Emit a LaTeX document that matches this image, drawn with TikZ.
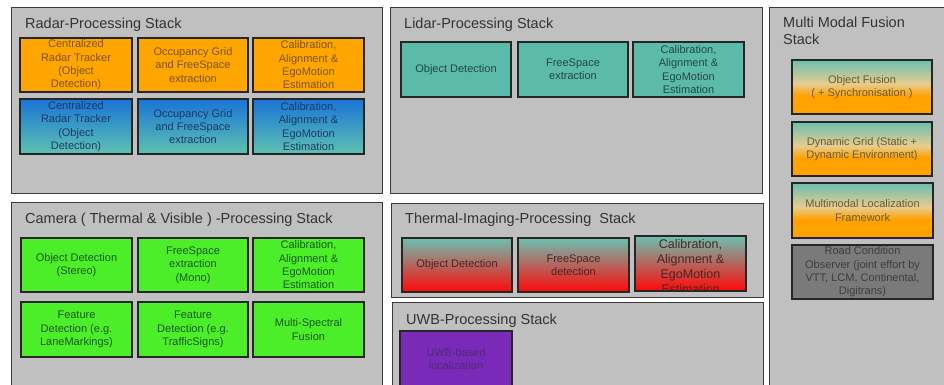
\documentclass[tikz,border=0pt]{standalone}
\usepackage{fontspec}
\setmainfont{Liberation Sans}
\definecolor{panelfill}{HTML}{C0C0C0}
\definecolor{panelline}{HTML}{3A3A3A}
\definecolor{radarorange}{HTML}{FFA500}
\definecolor{radartext}{HTML}{7E5210}
\definecolor{bluetop}{HTML}{1A74D6}
\definecolor{bluebot}{HTML}{5EC2B0}
\definecolor{bluetext}{HTML}{1A3A6A}
\definecolor{lidarteal}{HTML}{5CBAA8}
\definecolor{lidartext}{HTML}{1E4A48}
\definecolor{camgreen}{HTML}{4CEE2A}
\definecolor{camtext}{HTML}{1A5A10}
\definecolor{tealtop}{HTML}{6CC0B0}
\definecolor{thermmid}{HTML}{C08080}
\definecolor{thermred}{HTML}{FF0808}
\definecolor{thermtext}{HTML}{4A2424}
\definecolor{fusmid}{HTML}{E6CC90}
\definecolor{fusbot}{HTML}{FFA200}
\definecolor{fustext}{HTML}{6E5A30}
\definecolor{roadfill}{HTML}{7A7A7A}
\definecolor{roadtext}{HTML}{3E3E3E}
\definecolor{uwbfill}{HTML}{7A2AB8}
\definecolor{uwbtext}{HTML}{4E2A78}
% teal-to-orange fade: orange over the lower part, teal at the top
\pgfdeclareverticalshading{fusionfade}{100bp}{color(0bp)=(fusbot); color(25bp)=(fusbot);
  color(42bp)=(fusbot); color(53bp)=(fusmid); color(75bp)=(tealtop); color(100bp)=(tealtop)}
\begin{document}
\begin{tikzpicture}[x=1pt,y=-1pt,
  panel/.style={draw=panelline, line width=1.3pt, fill=panelfill, anchor=north west, inner sep=0pt},
  ptitle/.style={anchor=base west, font=\fontsize{14.5}{17}\selectfont, text=black!80, inner sep=0pt},
  box/.style={draw=black!85, line width=1.3pt, align=center, inner sep=0pt,
    font=\fontsize{11}{13.3}\selectfont},
  radarA/.style={box, fill=radarorange, text=radartext},
  radarB/.style={box, top color=bluetop, bottom color=bluebot, text=bluetext},
  lidar/.style={box, fill=lidarteal, text=lidartext},
  cam/.style={box, fill=camgreen, text=camtext},
  therm/.style={box, top color=tealtop, middle color=thermmid, bottom color=thermred, text=thermtext},
  fus/.style={box, shading=fusionfade, text=fustext},
  road/.style={box, fill=roadfill, text=roadtext},
  uwb/.style={box, fill=uwbfill, text=uwbtext}]

\fill[white] (0,0) rectangle (944,384);
\clip (0,0) rectangle (944,384);

% ---- panels
\node[panel, minimum width=371pt, minimum height=186pt] (radar) at (11,7) {};
\node[panel, minimum width=372pt, minimum height=186pt] (lidar) at (390,7) {};
\node[panel, minimum width=190pt, minimum height=390pt] (fusion) at (769,7) {};
\node[panel, minimum width=371pt, minimum height=200pt] (camera) at (11,202) {};
\node[panel, minimum width=372pt, minimum height=94pt] (thermal) at (391,203) {};
\node[panel, minimum width=371pt, minimum height=100pt] (uwbp) at (392,302) {};

% ---- panel titles
\node[ptitle] (tradar) at (25,28) {Radar-Processing Stack};
\node[ptitle] (tlidar) at (404,28) {Lidar-Processing Stack};
\node[ptitle, align=left, anchor=north west] (tfusion) at (783,17) {Multi Modal Fusion\\Stack};
\node[ptitle] (tcamera) at (25,223) {Camera ( Thermal \& Visible ) -Processing Stack};
\node[ptitle] (tthermal) at (405,223) {Thermal-Imaging-Processing\ \ Stack};
\node[ptitle] (tuwb) at (406,324) {UWB-Processing Stack};

% ---- radar stack
\node[radarA, minimum width=112pt, minimum height=54pt] (ra1) at (76,65) {Centralized\\Radar Tracker\\(Object\\Detection)};
\node[radarA, minimum width=110pt, minimum height=54pt] (ra2) at (193,65) {Occupancy Grid\\and FreeSpace\\extraction};
\node[radarA, minimum width=111pt, minimum height=54pt] (ra3) at (308.5,65) {Calibration,\\Alignment \&\\EgoMotion\\Estimation};
\node[radarB, minimum width=112pt, minimum height=55pt] (rb1) at (76,126.5) {Centralized\\Radar Tracker\\(Object\\Detection)};
\node[radarB, minimum width=110pt, minimum height=55pt] (rb2) at (193,126.5) {Occupancy Grid\\and FreeSpace\\extraction};
\node[radarB, minimum width=111pt, minimum height=55pt] (rb3) at (308.5,126.5) {Calibration,\\Alignment \&\\EgoMotion\\Estimation};

% ---- lidar stack
\node[lidar, minimum width=110pt, minimum height=55pt] (l1) at (456,69.5) {Object Detection};
\node[lidar, minimum width=110pt, minimum height=55pt] (l2) at (573,69.5) {FreeSpace\\extraction};
\node[lidar, minimum width=111pt, minimum height=55pt] (l3) at (688.5,69.5) {Calibration,\\Alignment \&\\EgoMotion\\Estimation};

% ---- multi modal fusion stack
\node[fus, minimum width=140pt, minimum height=54pt] (f1) at (862,87) {Object Fusion\\( + Synchronisation )};
\node[fus, minimum width=140pt, minimum height=54pt] (f2) at (862,149) {Dynamic Grid (Static +\\Dynamic Environment)};
\node[fus, minimum width=141pt, minimum height=55pt] (f3) at (862.5,210.5) {Multimodal Localization\\Framework};
\node[road, minimum width=141pt, minimum height=54pt] (f4) at (862.5,272) {Road Condition\\Observer (joint effort by\\VTT, LCM, Continental,\\Digitrans)};

% ---- camera stack
\node[cam, minimum width=111pt, minimum height=54pt] (c1) at (76.5,265) {Object Detection\\(Stereo)};
\node[cam, minimum width=110pt, minimum height=54pt] (c2) at (193,265) {FreeSpace\\extraction\\(Mono)};
\node[cam, minimum width=111pt, minimum height=54pt] (c3) at (308.5,265) {Calibration,\\Alignment \&\\EgoMotion\\Estimation};
\node[cam, minimum width=111pt, minimum height=55pt] (c4) at (76.5,329.5) {Feature\\Detection (e.g.\\LaneMarkings)};
\node[cam, minimum width=110pt, minimum height=55pt] (c5) at (193,329.5) {Feature\\Detection (e.g.\\TrafficSigns)};
\node[cam, minimum width=111pt, minimum height=55pt] (c6) at (308.5,329.5) {Multi-Spectral\\Fusion};

% ---- thermal imaging stack
\node[therm, minimum width=110pt, minimum height=54pt] (t1) at (457,265) {Object Detection};
\node[therm, minimum width=111pt, minimum height=54pt] (t2) at (573.5,265) {FreeSpace\\detection};
\node[therm, minimum width=111pt, minimum height=55pt] (t3) at (690.5,263.5) {};
\begin{scope}
  \clip (t3.north west) rectangle (t3.south east);
  \node[align=center, text=thermtext, font=\fontsize{12.5}{15.2}\selectfont, inner sep=0pt]
    (t3text) at (690.5,266.5) {Calibration,\\Alignment \&\\EgoMotion\\Estimation};
\end{scope}
\draw[draw=black!85, line width=1.3pt] (t3.north west) rectangle (t3.south east);

% ---- UWB stack
\node[uwb, minimum width=112pt, minimum height=56pt] (u1) at (456,359) {UWB-based\\localization};

\end{tikzpicture}
\end{document}
